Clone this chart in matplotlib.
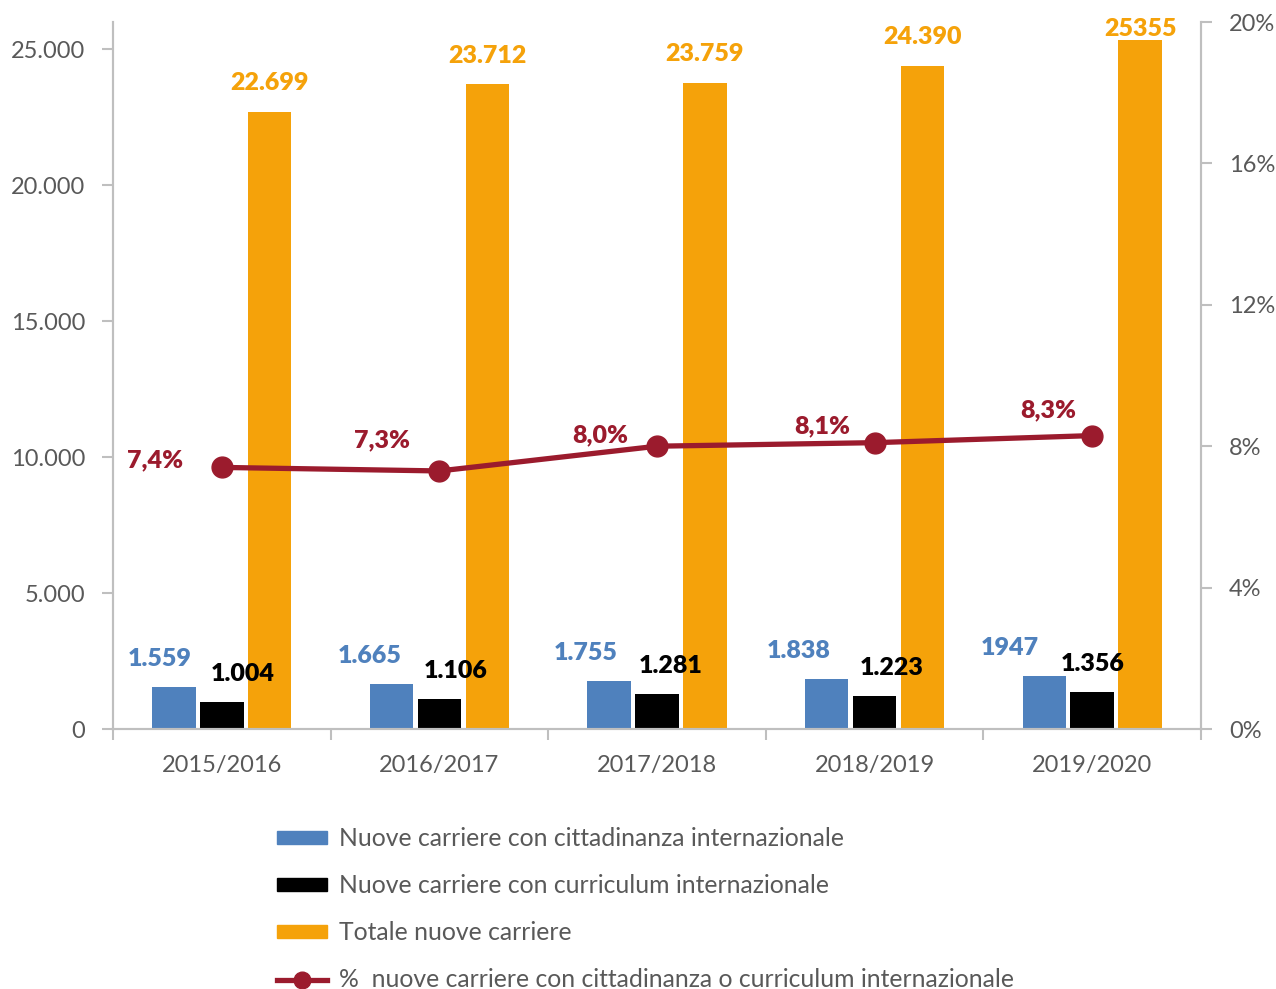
import matplotlib
matplotlib.use("Agg")
import matplotlib.pyplot as plt
from matplotlib.patches import Patch
from matplotlib.lines import Line2D
import numpy as np

plt.rcParams['font.family'] = ['Lato', 'DejaVu Sans']

years = ["2015/2016", "2016/2017", "2017/2018", "2018/2019", "2019/2020"]
cittadinanza = [1559, 1665, 1755, 1838, 1947]
curriculum = [1004, 1106, 1281, 1223, 1356]
totale = [22699, 23712, 23759, 24390, 25355]
percent = [7.4, 7.3, 8.0, 8.1, 8.3]

lab_citt = ["1.559", "1.665", "1.755", "1.838", "1947"]
lab_curr = ["1.004", "1.106", "1.281", "1.223", "1.356"]
lab_tot = ["22.699", "23.712", "23.759", "24.390", "25355"]
lab_pct = ["7,4%", "7,3%", "8,0%", "8,1%", "8,3%"]

legend_labels = ["Nuove carriere con cittadinanza internazionale",
                 "Nuove carriere con curriculum internazionale",
                 "Totale nuove carriere",
                 "%  nuove carriere con cittadinanza o curriculum internazionale"]

# label placement (offsets in points, layout only)
pct_dx = [-48, -41, -41, -38, -32]
pct_dy = [5, 22, 8, 12, 18]
citt_dx = [-10, -16, -17, -20, -25]
curr_dx = [15, 12, 10, 12, 0]

BLUE = "#4F81BD"
BLACK = "#000000"
ORANGE = "#F5A20A"
RED = "#9B1B2D"
GREY = "#595959"
SPINE = "#BFBFBF"

fig = plt.figure(figsize=(12.76, 9.89), dpi=100)
ax = fig.add_axes([113/1276, 1-729/989, (1201-113)/1276, (729-22)/989])
ax2 = ax.twinx()

x = np.arange(len(years))
w = 0.2
off = 0.22
ax.bar(x - off, cittadinanza, w, color=BLUE, zorder=2)
ax.bar(x, curriculum, w, color=BLACK, zorder=2)
ax.bar(x + off, totale, w, color=ORANGE, zorder=2)

YMAX = 26000
ax.set_xlim(-0.5, len(years) - 0.5)
ax.set_ylim(0, YMAX)
ax.set_yticks([0, 5000, 10000, 15000, 20000, 25000])
ax.set_yticklabels(["0", "5.000", "10.000", "15.000", "20.000", "25.000"])
ax.set_xticks(x)
ax.set_xticklabels(years)
ax.set_xticks(np.arange(-0.5, len(years), 1.0), minor=True)
ax.tick_params(axis='x', which='major', length=0, pad=19, labelsize=17, labelcolor=GREY)
ax.tick_params(axis='x', which='minor', length=8, width=1.5, color=SPINE, direction='out')
ax.tick_params(axis='y', length=8, width=1.5, color=SPINE, labelsize=17, labelcolor=GREY, pad=12)

ax2.set_ylim(0, 20)
ax2.set_yticks([0, 4, 8, 12, 16, 20])
ax2.set_yticklabels(["0%", "4%", "8%", "12%", "16%", "20%"])
ax2.tick_params(axis='y', length=8, width=1.5, color=SPINE, labelsize=17, labelcolor=GREY, pad=12)

for a in (ax, ax2):
    a.spines['top'].set_visible(False)
    for s in ['left', 'right', 'bottom']:
        a.spines[s].set_color(SPINE)
        a.spines[s].set_linewidth(1.5)

ax2.plot(x, percent, color=RED, lw=3.8, marker='o', markersize=15, zorder=5)

ax.set_zorder(1)
ax2.set_zorder(2)
ax.patch.set_visible(False)

fs = 18
wt = 'heavy'
for i in range(len(years)):
    ytop = min(totale[i] + 1050, YMAX - 250)
    ax.text(x[i] + off, ytop, lab_tot[i], ha='center', va='center', color=ORANGE,
            fontsize=fs, fontweight=wt)
    ax.annotate(lab_citt[i], (x[i] - off, cittadinanza[i]), xytext=(citt_dx[i], 20),
                textcoords='offset points', ha='center', va='center', color=BLUE,
                fontsize=fs, fontweight=wt)
    ax.annotate(lab_curr[i], (x[i], curriculum[i]), xytext=(curr_dx[i], 20),
                textcoords='offset points', ha='center', va='center', color=BLACK,
                fontsize=fs, fontweight=wt)
    ax2.annotate(lab_pct[i], (x[i], percent[i]), xytext=(pct_dx[i], pct_dy[i]),
                 textcoords='offset points', ha='center', va='center', color=RED,
                 fontsize=fs, fontweight=wt)

handles = [Patch(color=BLUE), Patch(color=BLACK), Patch(color=ORANGE),
           Line2D([0], [0], color=RED, lw=3.8, marker='o', markersize=12)]
fig.legend(handles, legend_labels, loc='upper left', bbox_to_anchor=(270/1276, 1-820/989),
           frameon=False, fontsize=17.8, labelcolor=GREY, handlelength=2.0, handleheight=0.45,
           labelspacing=0.97, handletextpad=0.5, borderaxespad=0, borderpad=0.3)

fig.savefig("out.png", dpi=100)
